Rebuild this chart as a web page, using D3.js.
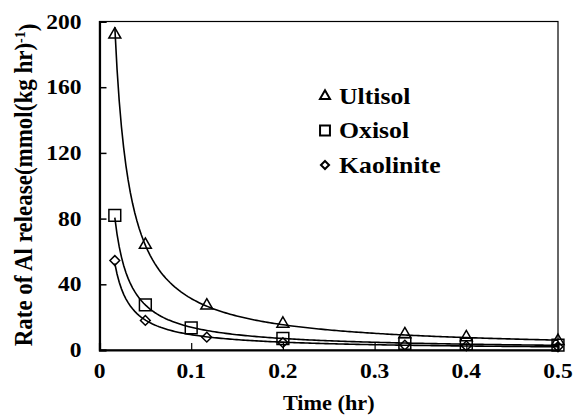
<!DOCTYPE html>
<html>
<head>
<meta charset="utf-8">
<script src="https://cdn.jsdelivr.net/npm/d3@7"></script>
<style>
  html, body { margin: 0; padding: 0; background: #fff; }
  svg text { font-family: "Liberation Serif", "Times New Roman", Tinos, "DejaVu Serif", serif; font-weight: bold; fill: #000; }
</style>
</head>
<body>
<svg id="chart" width="574" height="416"></svg>
<script>
// Sampling times (hr)
const times = [0.0167, 0.05, 0.117, 0.2, 0.333, 0.4, 0.5];
const timesOxisol = [0.0167, 0.05, 0.1, 0.2, 0.333, 0.4, 0.5];

// Al release rates, mmol (kg hr)^-1
const ultisol   = [192, 64, 27, 16, 9.5, 7.7, 5.5];
const oxisol    = [82, 27.5, 13.5, 7, 4, 3.6, 3];
const kaolinite = [54.5, 18, 7.8, 4.5, 3, 2.5, 2];

const xTicks = [0, 0.1, 0.2, 0.3, 0.4, 0.5];
const yTicks = [0, 40, 80, 120, 160, 200];

const seriesNames = ["Ultisol", "Oxisol", "Kaolinite"];
const seriesSymbols = [d3.symbolTriangle, d3.symbolSquare, d3.symbolDiamond2];

const series = [
  { name: seriesNames[0], t: times, v: ultisol, symbol: seriesSymbols[0], size: 62 },
  { name: seriesNames[1], t: timesOxisol, v: oxisol, symbol: seriesSymbols[1], size: 140 },
  { name: seriesNames[2], t: times, v: kaolinite, symbol: seriesSymbols[2], size: 60 }
];

const svg = d3.select("#chart");
const plotLeft = 99.5, plotRight = 558, plotTop = 21.5, plotBottom = 350;
const stretch = 1.12; // lettering is slightly wide

const x = d3.scaleLinear().domain([0, 0.5]).range([plotLeft, plotRight]);
const y = d3.scaleLinear().domain([0, 200]).range([plotBottom, plotTop]);

// Power-law trendline (least squares in log-log space)
function powerFit(ts, vs) {
  const lx = ts.map(Math.log), ly = vs.map(Math.log);
  const mx = d3.mean(lx), my = d3.mean(ly);
  const b = d3.sum(lx, (d, i) => (d - mx) * (ly[i] - my)) / d3.sum(lx, d => (d - mx) * (d - mx));
  const a = Math.exp(my - b * mx);
  return t => a * Math.pow(t, b);
}

// Wide bold serif label anchored at (px, py)
function label(parent, px, py, str, size, anchor, sx) {
  const g = parent.append("g").attr("transform", `translate(${px},${py})`);
  return g.append("text")
    .attr("transform", `scale(${sx},1)`)
    .attr("text-anchor", anchor)
    .attr("font-size", size)
    .text(str);
}

// Frame: top and right thin, left and bottom heavier
svg.append("rect")
  .attr("x", plotLeft).attr("y", plotTop)
  .attr("width", plotRight - plotLeft).attr("height", plotBottom - plotTop)
  .attr("fill", "none").attr("stroke", "#000").attr("stroke-width", 1.2);

// Axes: lines and inward ticks from d3, labels placed separately
const yAxis = svg.append("g")
  .attr("transform", `translate(${plotLeft},0)`)
  .call(d3.axisLeft(y).tickValues(yTicks).tickSize(-7).tickFormat(""));
yAxis.select(".domain").attr("stroke-width", 2.2);
yAxis.selectAll(".tick line").attr("stroke-width", 1.5);

const xAxis = svg.append("g")
  .attr("transform", `translate(0,${plotBottom})`)
  .call(d3.axisBottom(x).tickValues(xTicks).tickSize(-7).tickFormat(""));
xAxis.select(".domain").attr("stroke-width", 2.2);
xAxis.selectAll(".tick line").attr("stroke-width", 1.2);
svg.selectAll(".domain").attr("stroke", "#000");
svg.selectAll(".tick line").attr("stroke", "#000");

const tickLabels = svg.append("g");
yTicks.forEach(v => label(tickLabels, plotLeft - 18, y(v) + 7, d3.format("d")(v), 21, "end", stretch));
xTicks.forEach(v => label(tickLabels, x(v), plotBottom + 28, v === 0 ? "0" : d3.format(".1f")(v), 21, "middle", stretch));

// Trendlines
const line = d3.line().x(d => x(d[0])).y(d => y(d[1]));
series.forEach(s => {
  const f = powerFit(s.t, s.v);
  const t0 = s.t[0], t1 = s.t[s.t.length - 1];
  const pts = d3.range(0, 201).map(i => {
    const t = t0 + (t1 - t0) * i / 200;
    return [t, f(t)];
  });
  svg.append("path")
    .datum(pts)
    .attr("d", line)
    .attr("fill", "none")
    .attr("stroke", "#000")
    .attr("stroke-width", 1.6);
});

// Markers
series.forEach(s => {
  const sym = d3.symbol().type(s.symbol).size(s.size);
  svg.append("g").selectAll("path")
    .data(s.t.map((t, i) => [t, s.v[i]]))
    .join("path")
    .attr("d", sym)
    .attr("transform", d => `translate(${x(d[0])},${y(d[1])})`)
    .attr("fill", "none")
    .attr("stroke", "#000")
    .attr("stroke-width", 1.5);
});

// Legend
const legend = svg.append("g").attr("transform", "translate(325,96)");
series.forEach((s, i) => {
  const g = legend.append("g").attr("transform", `translate(0,${i * 34.5})`);
  g.append("path")
    .attr("d", d3.symbol().type(s.symbol).size(s.size * 0.7)())
    .attr("fill", "none").attr("stroke", "#000").attr("stroke-width", 2);
  label(g, 14, 7.5, s.name, 23, "start", stretch);
});

// Axis titles
label(svg, (plotLeft + plotRight) / 2, 410, "Time (hr)", 21, "middle", 1.06);

const yTitle = svg.append("g")
  .attr("transform", "translate(32,185) rotate(-90)")
  .append("text")
  .attr("transform", "scale(1,1.08)")
  .attr("text-anchor", "middle")
  .attr("font-size", 23);
yTitle.append("tspan").text("Rate of Al release(mmol(kg hr)");
yTitle.append("tspan").attr("dy", "-0.45em").attr("font-size", 14).text("-1");
yTitle.append("tspan").attr("dy", "0.45em").text(")");
</script>
</body>
</html>
